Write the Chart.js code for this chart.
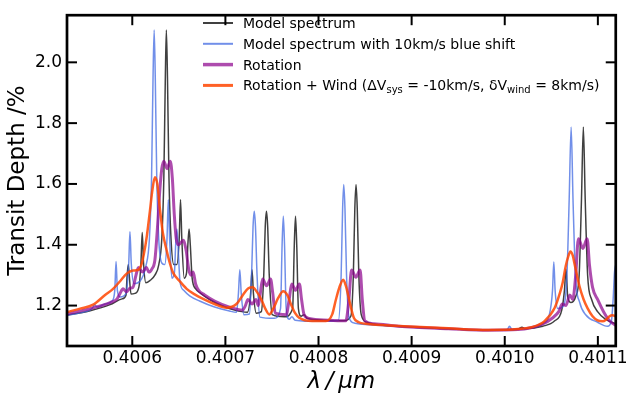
<!DOCTYPE html>
<html lang="en">
<head>
<meta charset="UTF-8">
<title>Transit depth spectrum</title>
<script src="https://cdn.jsdelivr.net/npm/chart.js"></script>
<style>
    html, body { margin: 0; padding: 0; background: #fff; }
    canvas { display: block; }
</style>
</head>
<body>
<canvas id="spec" width="630" height="399"></canvas>

<script>
    // axis ticks
    const xTicks = [0.4006, 0.4007, 0.4008, 0.4009, 0.4010, 0.4011];
    const yTicks = [1.2, 1.4, 1.6, 1.8, 2.0];

    // Model spectrum (wavelength in um, transit depth in %)
    const modelWl = [
        0.4005302, 0.4005548, 0.4005762, 0.4005890, 0.4005933, 0.4005943, 0.4005957, 0.4005970, 0.4005986, 0.4006029,
        0.4006072, 0.4006093, 0.4006107, 0.4006121, 0.4006146, 0.4006189, 0.4006243, 0.4006285, 0.4006317, 0.4006339,
        0.4006355, 0.4006366, 0.4006378, 0.4006394, 0.4006416, 0.4006446, 0.4006478, 0.4006504, 0.4006518, 0.4006532,
        0.4006558, 0.4006584, 0.4006597, 0.4006610, 0.4006623, 0.4006643, 0.4006681, 0.4006734, 0.4006830, 0.4006958,
        0.4007097, 0.4007236, 0.4007271, 0.4007286, 0.4007301, 0.4007332, 0.4007386, 0.4007412, 0.4007428, 0.4007441,
        0.4007454, 0.4007471, 0.4007503, 0.4007631, 0.4007722, 0.4007740, 0.4007753, 0.4007766, 0.4007784, 0.4007813,
        0.4007845, 0.4007877, 0.4008059, 0.4008272, 0.4008347, 0.4008374, 0.4008390, 0.4008403, 0.4008416, 0.4008433,
        0.4008459, 0.4008518, 0.4008860, 0.4009394, 0.4009822, 0.4010142, 0.4010185, 0.4010217, 0.4010409, 0.4010537,
        0.4010612, 0.4010641, 0.4010658, 0.4010676, 0.4010708, 0.4010762, 0.4010799, 0.4010824, 0.4010844, 0.4010864,
        0.4010890, 0.4010933, 0.4010997, 0.4011082, 0.4011192
    ];
    const modelDepth = [
        1.168, 1.183, 1.203, 1.222, 1.235, 1.29, 1.335, 1.29, 1.238, 1.240,
        1.262, 1.34, 1.44, 1.34, 1.275, 1.282, 1.30, 1.335, 1.42, 1.62,
        1.95, 2.106, 1.95, 1.62, 1.42, 1.335, 1.335, 1.42, 1.548, 1.42,
        1.29, 1.31, 1.40, 1.452, 1.40, 1.29, 1.255, 1.24, 1.22, 1.20,
        1.185, 1.178, 1.24, 1.318, 1.24, 1.175, 1.18, 1.30, 1.46, 1.51,
        1.46, 1.30, 1.17, 1.163, 1.19, 1.40, 1.494, 1.40, 1.19, 1.165,
        1.17, 1.158, 1.152, 1.15, 1.165, 1.30, 1.52, 1.598, 1.52, 1.30,
        1.17, 1.145, 1.132, 1.124, 1.119, 1.122, 1.129, 1.124, 1.132, 1.15,
        1.185, 1.25, 1.32, 1.23, 1.21, 1.23, 1.30, 1.55, 1.787, 1.55,
        1.30, 1.22, 1.18, 1.155, 1.14
    ];

    // Model spectrum with 10km/s blue shift
    const shiftWl = [
        0.4005302, 0.4005495, 0.4005569, 0.4005595, 0.4005623, 0.4005708, 0.4005783, 0.4005812, 0.4005826, 0.4005840,
        0.4005869, 0.4005933, 0.4005962, 0.4005975, 0.4005989, 0.4006018, 0.4006082, 0.4006146, 0.4006184, 0.4006207,
        0.4006223, 0.4006235, 0.4006247, 0.4006263, 0.4006284, 0.4006317, 0.4006349, 0.4006373, 0.4006387, 0.4006401,
        0.4006426, 0.4006453, 0.4006466, 0.4006479, 0.4006491, 0.4006512, 0.4006552, 0.4006616, 0.4006723, 0.4006884,
        0.4007044, 0.4007119, 0.4007140, 0.4007155, 0.4007170, 0.4007199, 0.4007258, 0.4007281, 0.4007297, 0.4007310,
        0.4007323, 0.4007340, 0.4007370, 0.4007525, 0.4007592, 0.4007609, 0.4007622, 0.4007635, 0.4007653, 0.4007685,
        0.4007714, 0.4007749, 0.4008005, 0.4008214, 0.4008243, 0.4008259, 0.4008271, 0.4008284, 0.4008301, 0.4008328,
        0.4008390, 0.4008753, 0.4009394, 0.4009822, 0.4010025, 0.4010051, 0.4010078, 0.4010249, 0.4010409, 0.4010479,
        0.4010513, 0.4010527, 0.4010541, 0.4010569, 0.4010634, 0.4010668, 0.4010692, 0.4010713, 0.4010733, 0.4010759,
        0.4010805, 0.4010869, 0.4010997, 0.4011104, 0.4011146, 0.4011164, 0.4011179, 0.4011192
    ];
    const shiftDepth = [
        1.168, 1.18, 1.19, 1.203, 1.195, 1.205, 1.215, 1.25, 1.345, 1.25,
        1.228, 1.24, 1.34, 1.443, 1.34, 1.272, 1.28, 1.33, 1.42, 1.62,
        1.95, 2.106, 1.95, 1.62, 1.42, 1.34, 1.335, 1.42, 1.548, 1.42,
        1.29, 1.31, 1.40, 1.452, 1.40, 1.28, 1.25, 1.232, 1.215, 1.195,
        1.182, 1.178, 1.24, 1.318, 1.24, 1.17, 1.172, 1.30, 1.46, 1.51,
        1.46, 1.30, 1.162, 1.158, 1.19, 1.40, 1.494, 1.40, 1.19, 1.155,
        1.163, 1.152, 1.148, 1.152, 1.30, 1.52, 1.598, 1.52, 1.30, 1.16,
        1.142, 1.133, 1.124, 1.119, 1.12, 1.132, 1.121, 1.125, 1.14, 1.17,
        1.25, 1.343, 1.25, 1.19, 1.20, 1.30, 1.55, 1.787, 1.55, 1.30,
        1.21, 1.17, 1.145, 1.132, 1.15, 1.22, 1.31, 1.335
    ];

    // Rotation
    const rotWl = [
        0.4005302, 0.4005548, 0.4005762, 0.4005837, 0.4005869, 0.4005901, 0.4005938, 0.4005975, 0.4006007, 0.4006040,
        0.4006066, 0.4006109, 0.4006152, 0.4006178, 0.4006210, 0.4006243, 0.4006269, 0.4006296, 0.4006317, 0.4006339,
        0.4006374, 0.4006408, 0.4006430, 0.4006451, 0.4006472, 0.4006499, 0.4006547, 0.4006579, 0.4006606, 0.4006632,
        0.4006654, 0.4006681, 0.4006713, 0.4006777, 0.4006884, 0.4007044, 0.4007183, 0.4007215, 0.4007242, 0.4007286,
        0.4007327, 0.4007354, 0.4007375, 0.4007400, 0.4007442, 0.4007485, 0.4007509, 0.4007535, 0.4007653, 0.4007685,
        0.4007712, 0.4007753, 0.4007795, 0.4007818, 0.4007845, 0.4007899, 0.4008112, 0.4008294, 0.4008326, 0.4008355,
        0.4008401, 0.4008447, 0.4008470, 0.4008497, 0.4008593, 0.4008860, 0.4009394, 0.4009822, 0.4010142, 0.4010409,
        0.4010516, 0.4010580, 0.4010618, 0.4010658, 0.4010698, 0.4010730, 0.4010762, 0.4010791, 0.4010839, 0.4010885,
        0.4010911, 0.4010943, 0.4010997, 0.4011061, 0.4011125, 0.4011192
    ];
    const rotDepth = [
        1.173, 1.19, 1.21, 1.222, 1.24, 1.255, 1.245, 1.257, 1.26, 1.30,
        1.325, 1.31, 1.325, 1.31, 1.32, 1.35, 1.45, 1.58, 1.65, 1.675,
        1.65, 1.675, 1.62, 1.50, 1.42, 1.40, 1.415, 1.38, 1.32, 1.30,
        1.31, 1.27, 1.25, 1.235, 1.215, 1.195, 1.185, 1.20, 1.22, 1.205,
        1.22, 1.20, 1.24, 1.287, 1.265, 1.287, 1.24, 1.175, 1.17, 1.22,
        1.271, 1.25, 1.271, 1.22, 1.17, 1.158, 1.152, 1.15, 1.22, 1.317,
        1.293, 1.317, 1.22, 1.15, 1.14, 1.132, 1.124, 1.119, 1.121, 1.14,
        1.16, 1.18, 1.205, 1.20, 1.235, 1.22, 1.30, 1.42, 1.388, 1.42,
        1.33, 1.26, 1.22, 1.18, 1.15, 1.135
    ];

    // Rotation + Wind
    const windWl = [
        0.4005302, 0.4005441, 0.4005580, 0.4005708, 0.4005794, 0.4005869, 0.4005940, 0.4006007, 0.4006061, 0.4006093,
        0.4006125, 0.4006157, 0.4006189, 0.4006216, 0.4006243, 0.4006269, 0.4006296, 0.4006328, 0.4006368, 0.4006403,
        0.4006435, 0.4006510, 0.4006584, 0.4006670, 0.4006755, 0.4006884, 0.4007012, 0.4007119, 0.4007186, 0.4007247,
        0.4007293, 0.4007338, 0.4007386, 0.4007428, 0.4007471, 0.4007514, 0.4007567, 0.4007621, 0.4007664, 0.4007706,
        0.4007749, 0.4007792, 0.4007931, 0.4008080, 0.4008147, 0.4008187, 0.4008230, 0.4008265, 0.4008294, 0.4008326,
        0.4008379, 0.4008433, 0.4008508, 0.4008860, 0.4009394, 0.4009822, 0.4010142, 0.4010302, 0.4010427, 0.4010534,
        0.4010591, 0.4010623, 0.4010655, 0.4010682, 0.4010705, 0.4010730, 0.4010751, 0.4010801, 0.4010847, 0.4010890,
        0.4010943, 0.4010997, 0.4011050, 0.4011093, 0.4011125, 0.4011157, 0.4011192
    ];
    const windDepth = [
        1.179, 1.19, 1.203, 1.235, 1.255, 1.28, 1.305, 1.315, 1.317, 1.33,
        1.37, 1.43, 1.51, 1.58, 1.622, 1.60, 1.52, 1.44, 1.383, 1.34,
        1.31, 1.28, 1.255, 1.237, 1.223, 1.205, 1.193, 1.205, 1.234, 1.257,
        1.26, 1.245, 1.22, 1.19, 1.171, 1.19, 1.225, 1.247, 1.235, 1.203,
        1.175, 1.16, 1.149, 1.149, 1.171, 1.22, 1.265, 1.285, 1.265, 1.223,
        1.16, 1.145, 1.14, 1.133, 1.125, 1.12, 1.123, 1.13, 1.149, 1.191,
        1.24, 1.277, 1.33, 1.362, 1.378, 1.365, 1.335, 1.265, 1.22, 1.191,
        1.165, 1.151, 1.148, 1.155, 1.165, 1.168, 1.165
    ];

    // legend text, split into [text, subscript?] pieces
    const legendLabels = [
        [['Model spectrum', false]],
        [['Model spectrum with 10km/s blue shift', false]],
        [['Rotation', false]],
        [['Rotation + Wind (\u0394V', false], ['sys', true], [' = -10km/s, \u03b4V', false], ['wind', true], [' = 8km/s)', false]]
    ];

    const pts = (xs, ys) => xs.map((x, i) => ({x: x, y: ys[i]}));

    const FONT = '"DejaVu Sans", sans-serif';

    const frameTicks = {
        id: 'frameTicks',
        afterDraw(chart) {
            const {ctx, chartArea: a, scales: {x, y}} = chart;
            ctx.save();
            ctx.strokeStyle = '#000';
            ctx.lineWidth = 2;
            const seg = (x0, y0, x1, y1) => { ctx.beginPath(); ctx.moveTo(x0, y0); ctx.lineTo(x1, y1); ctx.stroke(); };
            xTicks.forEach(v => {
                const p = x.getPixelForValue(v);
                seg(p, a.bottom, p, a.bottom - 10);
                seg(p, a.top, p, a.top + 10);
            });
            yTicks.forEach(v => {
                const p = y.getPixelForValue(v);
                seg(a.left, p, a.left + 10, p);
                seg(a.right, p, a.right - 10, p);
            });
            ctx.lineWidth = 2.7;
            ctx.strokeRect(a.left, a.top, a.right - a.left, a.bottom - a.top);
            ctx.restore();
        }
    };

    const insideLegend = {
        id: 'insideLegend',
        afterDraw(chart) {
            const ctx = chart.ctx;
            ctx.save();
            chart.data.datasets.forEach((ds, i) => {
                const yy = 23 + i * 20.8;
                ctx.strokeStyle = ds.borderColor;
                ctx.lineWidth = ds.borderWidth + 0.5;
                ctx.beginPath();
                ctx.moveTo(203, yy);
                ctx.lineTo(233, yy);
                ctx.stroke();
                let xx = 243;
                ctx.fillStyle = '#000';
                ctx.textBaseline = 'alphabetic';
                legendLabels[i].forEach(([t, sub]) => {
                    ctx.font = (sub ? '10px ' : '14px ') + FONT;
                    ctx.fillText(t, xx, sub ? yy + 8 : yy + 5);
                    xx += ctx.measureText(t).width;
                });
            });
            ctx.restore();
        }
    };

    const chart = new Chart(document.getElementById('spec'), {
        type: 'line',
        data: {
            datasets: [
                { label: 'Model spectrum', data: pts(modelWl, modelDepth),
                  borderColor: 'rgba(0,0,0,0.75)', borderWidth: 1.5, order: 4 },
                { label: 'Model spectrum with 10km/s blue shift', data: pts(shiftWl, shiftDepth),
                  borderColor: 'rgba(65,105,225,0.75)', borderWidth: 1.5, order: 3 },
                { label: 'Rotation', data: pts(rotWl, rotDepth),
                  borderColor: 'rgba(139,0,139,0.7)', borderWidth: 3, order: 2 },
                { label: 'Rotation + Wind', data: pts(windWl, windDepth),
                  borderColor: 'rgba(255,69,0,0.85)', borderWidth: 2.5, order: 1 }
            ]
        },
        options: {
            responsive: false,
            animation: false,
            devicePixelRatio: 1,
            layout: { padding: { top: 5, right: 12, left: 0, bottom: 0 } },
            elements: {
                point: { radius: 0 },
                line: { cubicInterpolationMode: 'monotone', borderJoinStyle: 'round', borderCapStyle: 'round' }
            },
            plugins: { legend: { display: false }, tooltip: { enabled: false } },
            scales: {
                x: {
                    type: 'linear',
                    min: 0.4005299,
                    max: 0.4011192,
                    afterBuildTicks: s => { s.ticks = xTicks.map(v => ({value: v})); },
                    afterFit: s => { s.height = 53; },
                    grid: { display: false, drawTicks: false },
                    border: { display: false },
                    ticks: {
                        padding: 2,
                        color: '#000',
                        maxRotation: 0,
                        autoSkip: false,
                        font: { family: FONT, size: 17 },
                        callback: v => v.toFixed(4)
                    },
                    title: {
                        display: true,
                        text: '\u03bb\u2009/\u2009\u03bcm',
                        color: '#000',
                        padding: { top: 0, bottom: 3 },
                        font: { family: FONT, size: 23, style: 'italic' }
                    }
                },
                y: {
                    min: 1.067,
                    max: 2.155,
                    afterBuildTicks: s => { s.ticks = yTicks.map(v => ({value: v})); },
                    afterFit: s => { s.width = 67; },
                    grid: { display: false, drawTicks: false },
                    border: { display: false },
                    ticks: {
                        padding: 5,
                        color: '#000',
                        font: { family: FONT, size: 17 },
                        callback: v => v.toFixed(1)
                    },
                    title: {
                        display: true,
                        text: 'Transit Depth /%',
                        color: '#000',
                        padding: { top: 4, bottom: 0 },
                        font: { family: FONT, size: 23 }
                    }
                }
            }
        },
        plugins: [frameTicks, insideLegend]
    });
</script>
</body>
</html>
